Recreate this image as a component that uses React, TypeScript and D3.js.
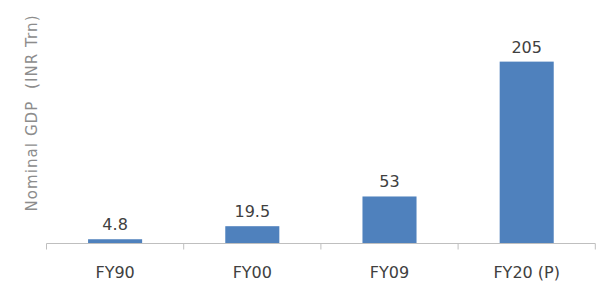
import React from "react";
import * as d3 from "d3";

const categories = ["FY90", "FY00", "FY09", "FY20 (P)"];
const values = [4.8, 19.5, 53, 205];
const valueLabels = ["4.8", "19.5", "53", "205"];
const yAxisTitle = "Nominal GDP\u00a0 (INR Trn)";

const W = 606;
const H = 290;

export default function App() {
  const x = d3.scaleBand<string>().domain(categories).range([46.5, 595.3]).paddingInner(0.606).paddingOuter(0.303);
  const y = d3.scaleLinear().domain([0, 250]).range([243.5, 21.7]);
  const base = y(0);
  const step = x.step();
  const tickXs = categories.map((c) => (x(c) as number) - (step - x.bandwidth()) / 2).concat([595.3]);
  const font = "'DejaVu Sans', Verdana, sans-serif";
  return (
    <svg width={W} height={H} style={{ position: "absolute", left: 0, top: 0, background: "#fff" }}>
      {categories.map((c, i) => (
        <rect key={c} x={x(c)} y={y(values[i])} width={x.bandwidth()} height={base - y(values[i])} fill="#4f81bd" />
      ))}
      <line x1={46.5} x2={595.3} y1={base} y2={base} stroke="#bfbfbf" strokeWidth={1} />
      {tickXs.map((tx, i) => (
        <line key={i} x1={tx} x2={tx} y1={base} y2={base + 6} stroke="#bfbfbf" strokeWidth={1} />
      ))}
      {categories.map((c, i) => (
        <text key={c} x={(x(c) as number) + x.bandwidth() / 2} y={y(values[i]) - 9} textAnchor="middle" fontFamily={font} fontSize={16} fill="#404040">
          {valueLabels[i]}
        </text>
      ))}
      {categories.map((c) => (
        <text key={c} x={(x(c) as number) + x.bandwidth() / 2} y={278} textAnchor="middle" fontFamily={font} fontSize={16} fill="#404040">
          {c}
        </text>
      ))}
      <text transform="translate(37,113.5) rotate(-90)" textAnchor="middle" fontFamily={font} fontSize={15} fill="#8c8c8c" textLength={196} lengthAdjust="spacing">
        {yAxisTitle}
      </text>
    </svg>
  );
}
